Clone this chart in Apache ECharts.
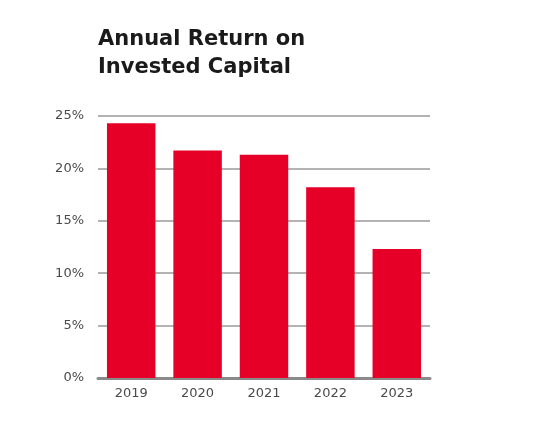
<!DOCTYPE html>
<html>
<head>
<meta charset="utf-8">
<script src="https://cdn.jsdelivr.net/npm/echarts@6/dist/echarts.min.js"></script>
<style>
html,body{margin:0;padding:0;background:#fff;}
#chart{width:533px;height:439px;}
</style>
</head>
<body>
<div id="chart"></div>
<script>
const categories = ['2019', '2020', '2021', '2022', '2023'];
const returnOnCapital = [24.3, 21.7, 21.3, 18.2, 12.3];
const yTicks = [0, 5, 10, 15, 20, 25];

const chart = echarts.init(document.getElementById('chart'));
chart.setOption({
  animation: false,
  backgroundColor: '#ffffff',
  title: {
    text: 'Annual Return on\nInvested Capital',
    left: 93,
    top: 21,
    textStyle: {
      fontFamily: '"DejaVu Sans", sans-serif',
      fontWeight: 'bold',
      fontSize: 21,
      lineHeight: 28,
      color: '#1a1a1a'
    }
  },
  grid: { left: 98, right: 103, top: 116, bottom: 61 },
  xAxis: {
    type: 'category',
    data: categories,
    axisTick: { show: false },
    axisLine: { show: true, lineStyle: { color: '#8a8a8a', width: 3 } },
    axisLabel: {
      color: '#4a4a4a',
      fontSize: 13,
      fontFamily: '"DejaVu Sans", sans-serif',
      margin: 9
    }
  },
  yAxis: {
    type: 'value',
    min: yTicks[0],
    max: yTicks[yTicks.length - 1],
    interval: 5,
    axisLine: { show: false },
    axisTick: { show: false },
    axisLabel: {
      formatter: '{value}%',
      color: '#4a4a4a',
      fontSize: 13,
      fontFamily: '"DejaVu Sans", sans-serif',
      margin: 14
    },
    splitLine: { lineStyle: { color: '#9a9a9a', width: 1.5 } }
  },
  series: [{
    type: 'bar',
    data: returnOnCapital,
    barCategoryGap: '27%',
    itemStyle: { color: '#E60028' },
    z: 1
  }]
});
</script>
</body>
</html>
